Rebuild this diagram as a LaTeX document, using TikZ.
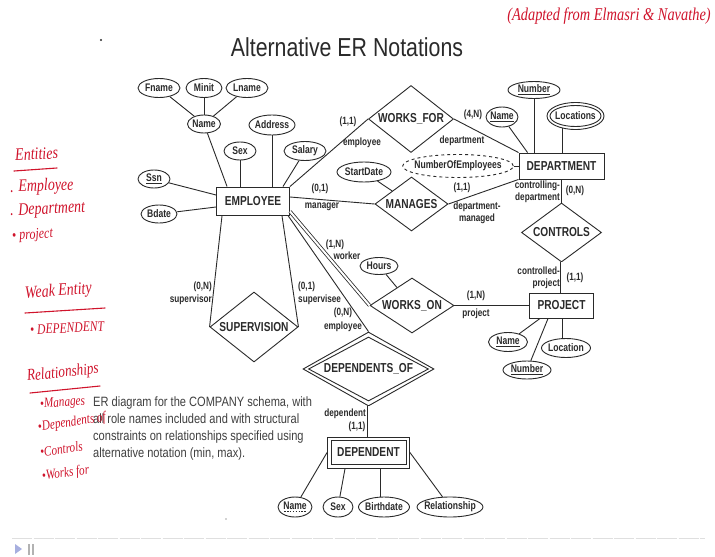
\documentclass[tikz,border=0pt]{standalone}
\usepackage{fontspec}
\setmainfont{Liberation Sans}
\newfontfamily\nb[FakeStretch=0.78]{Liberation Sans}
\newfontfamily\nr[FakeStretch=0.82]{Liberation Sans}
\newfontfamily\hw[FakeStretch=0.8]{Liberation Serif}
\usetikzlibrary{shapes.geometric,calc}
\definecolor{ink}{HTML}{2A2A2A}
\definecolor{pen}{HTML}{D0142C}
\newcommand{\dashund}[1]{\setbox0\hbox{#1}\rlap{\raisebox{-2.2pt}{\hbox to \wd0{\xleaders\hbox to 2.6pt{\hss\vrule width 1.5pt height 0.6pt\hss}\hfill}}}#1}
\begin{document}
\begin{tikzpicture}[x=1pt,y=-1pt,
 every node/.style={text=ink},
 line/.style={draw=ink, line width=0.9pt},
 dline/.style={draw=ink, line width=0.8pt, double=white, double distance=2pt},
 entbox/.style={draw=ink, line width=0.9pt, rectangle, inner sep=0pt, font=\nb\bfseries\fontsize{13}{15}\selectfont},
 outline/.style={draw=ink, line width=0.9pt, inner sep=0pt},
 attr/.style={draw=ink, line width=0.9pt, ellipse, inner xsep=-3pt, inner ysep=0pt, font=\nb\bfseries\fontsize{11}{13}\selectfont},
 reldia/.style={draw=ink, line width=0.9pt, diamond, inner sep=0pt},
 relfont/.style={font=\nb\bfseries\fontsize{13}{15}\selectfont, text=ink, inner sep=0pt},
 role/.style={font=\nb\bfseries\fontsize{10.5}{12}\selectfont, inner sep=0pt, align=center},
 note/.style={text=pen, font=\hw\itshape\fontsize{17.5}{19}\selectfont, inner sep=0pt, anchor=west},
 smallnote/.style={note, font=\hw\itshape\fontsize{14}{15}\selectfont},
 penline/.style={draw=pen, line width=1.1pt, line cap=round},
]
\useasboundingbox (0,0) rectangle (715,557);
\fill[white] (0,0) rectangle (715,557);

% title
\node[font=\nr\fontsize{26}{30}\selectfont] (title) at (347,47) {Alternative ER Notations};

% entities
\node[entbox, minimum width=73, minimum height=28] (emp) at (253,201) {EMPLOYEE};
\node[entbox, minimum width=85, minimum height=26] (dept) at (561.5,166) {DEPARTMENT};
\node[entbox, minimum width=64, minimum height=25] (proj) at (561.5,305.5) {PROJECT};
\node[entbox, minimum width=75, minimum height=24] (dep) at (368.5,452.5) {DEPENDENT};
\node[outline, rectangle, minimum width=82, minimum height=31] (depo) at (dep) {};

% relationships
\node[reldia, minimum width=85, minimum height=67, label={[relfont]center:WORKS\_FOR}] (wf) at (411,119) {};
\node[reldia, minimum width=73, minimum height=54, label={[relfont]center:MANAGES}] (mgr) at (411.5,204) {};
\node[reldia, minimum width=80, minimum height=59, label={[relfont]center:CONTROLS}] (ctl) at (561.5,232.5) {};
\node[reldia, minimum width=84, minimum height=55, label={[relfont]center:WORKS\_ON}] (won) at (412,305.5) {};
\node[reldia, minimum width=88, minimum height=70, label={[relfont]center:SUPERVISION}] (sup) at (254,327) {};
\node[reldia, minimum width=120, minimum height=64, label={[relfont]center:DEPENDENTS\_OF}] (dof) at (368.5,369) {};
\node[reldia, minimum width=131, minimum height=74] (dofo) at (dof) {};

% employee attributes
\node[attr, minimum width=42, minimum height=19] (fname) at (159,88) {Fname};
\node[attr, minimum width=36, minimum height=19] (minit) at (204,88) {Minit};
\node[attr, minimum width=42, minimum height=19] (lname) at (247,88) {Lname};
\node[attr, minimum width=33, minimum height=18] (ename) at (204,124) {Name};
\node[attr, minimum width=46, minimum height=20] (addr) at (272,125) {Address};
\node[attr, minimum width=32, minimum height=18] (esex) at (240,151) {Sex};
\node[attr, minimum width=42, minimum height=19] (sal) at (305,151) {Salary};
\node[attr, minimum width=32, minimum height=18] (ssn) at (154,179) {\underline{Ssn}};
\node[attr, minimum width=36, minimum height=18] (bdate) at (159,214) {Bdate};

% department attributes
\node[attr, minimum width=32, minimum height=20] (dname) at (502,117) {\underline{Name}};
\node[attr, minimum width=52, minimum height=17] (dnum) at (534,90) {\underline{Number}};
\node[attr, inner xsep=-4pt, minimum width=51, minimum height=21] (dloc) at (575.5,116) {Locations};
\node[outline, ellipse, minimum width=57, minimum height=27] (dloco) at (dloc) {};
\node[attr, dashed, inner xsep=-4.5pt, minimum width=110, minimum height=23] (noe) at (458,166) {NumberOfEmployees};
\node[attr, minimum width=54, minimum height=20] (sdate) at (364,172) {StartDate};
\node[attr, minimum width=38, minimum height=17] (hours) at (379,266) {Hours};

% project attributes
\node[attr, minimum width=39, minimum height=19] (pname) at (508,342) {\underline{Name}};
\node[attr, minimum width=49, minimum height=19] (ploc) at (566,348) {Location};
\node[attr, minimum width=48, minimum height=18] (pnum) at (527,370) {\underline{Number}};

% dependent attributes
\node[attr, minimum width=34, minimum height=20] (dpname) at (295,507) {\dashund{Name}};
\node[attr, minimum width=30, minimum height=20] (dpsex) at (338,507) {Sex};
\node[attr, minimum width=51, minimum height=20] (bdt) at (384,507) {Birthdate};
\node[attr, minimum width=66, minimum height=20] (rel) at (450,507) {Relationship};

% attribute connectors
\draw[line] (fname) -- (ename);
\draw[line] (minit) -- (ename);
\draw[line] (lname) -- (ename);
\draw[line] (ename) -- ($(emp.north west)+(11,0)$);
\draw[line] (addr) -- (addr |- emp.north);
\draw[line] (esex) -- (esex |- emp.north);
\draw[line] (sal) -- ($(emp.north east)+(-7,0)$);
\draw[line] (ssn) -- ($(emp.west)+(0,-6)$);
\draw[line] (bdate) -- ($(emp.west)+(0,6)$);

\draw[line] (dname) -- ($(dept.north west)+(9,0)$);
\draw[line] (dnum) -- (dnum |- dept.north);
\coordinate (dlocfoot) at ($(dept.north)+(0.5,0)$);
\draw[line] (dlocfoot) -- ($(dlocfoot |- dloco.south)+(0,-1.5)$);
\draw[line] (noe) -- (dept);
\draw[line] (sdate) -- (mgr);
\draw[line] (hours) -- (won);

\draw[line] (pname) -- ($(proj.south west)+(11,0)$);
\draw[line] (pnum) -- ($(proj.south west)+(19,0)$);
\coordinate (plocfoot) at ($(proj.south)+(0.5,0)$);
\draw[line] (plocfoot) -- (plocfoot |- ploc.north);

\draw[line] (dpname) -- (depo.west);
\draw[line] (dpsex) -- ($(depo.south west)+(18,0)$);
\coordinate (bdttop) at ($(depo.south)+(11.5,0)$);
\draw[line] (bdttop) -- (bdttop |- bdt.north);
\draw[line] (rel) -- (depo.east);

% relationship connectors
\draw[line] (emp.north east) -- (wf.west);
\draw[line] (wf.east) -- (dept.north west);
\draw[line] ($(emp.east)+(0,-4)$) -- (mgr.west);
\draw[line] (mgr.east) -- (dept.south west);
\draw[line] (dept.south) -- (ctl.north);
\draw[dline] (ctl.south) -- (proj.north);
\draw[line] (won.east) -- (proj.west);
\draw[dline] ($(emp.south east)+(0,-4)$) -- (won.west);
\draw[line] ($(emp.south east)+(-2,0)$) -- (dofo.north);
\draw[line] ($(emp.south west)+(6,0)$) -- (sup.west);
\draw[line] ($(emp.south east)+(-8,0)$) -- (sup.east);
\draw[dline] (dofo.south) -- (depo.north);

% role names and constraints
\node[role] (l1) at (348,122) {(1,1)};
\node[role] (l2) at (362,143) {employee};
\node[role] (l3) at (473,115) {(4,N)};
\node[role] (l4) at (462,141) {department};
\node[role] (l5) at (320,189) {(0,1)};
\node[role] (l6) at (322,207) {manager};
\node[role] (l7) at (462,188) {(1,1)};
\node[role] (l8) at (477,213) {department-\\managed};
\node[role, align=right, anchor=east] (l9) at (560,192) {controlling-\\department};
\node[role] (l10) at (575,191) {(0,N)};
\node[role, align=right, anchor=east] (l11) at (560,278) {controlled-\\project};
\node[role] (l12) at (575,278) {(1,1)};
\node[role] (l13) at (476,296) {(1,N)};
\node[role] (l14) at (476,314) {project};
\node[role] (l15) at (335,245) {(1,N)};
\node[role] (l16) at (347,256) {worker};
\node[role] (l17) at (343,313) {(0,N)};
\node[role] (l18) at (343,327) {employee};
\node[role, anchor=east] (l19) at (212,287) {(0,N)};
\node[role, anchor=east] (l20) at (212,300) {supervisor};
\node[role, anchor=west] (l21) at (298,287) {(0,1)};
\node[role, anchor=west] (l22) at (298,300) {supervisee};
\node[role, anchor=east] (l23) at (366,414) {dependent};
\node[role] (l24) at (357,427) {(1,1)};

% caption
\node[anchor=north west, align=left, inner sep=0pt, text=ink!90, font=\nr\fontsize{13.5}{17}\selectfont] (cap) at (93,396.5)
 {ER diagram for the COMPANY schema, with\\all role names included and with structural\\constraints on relationships specified using\\alternative notation (min, max).};

% handwritten notes
\node[note, anchor=center, font=\hw\itshape\fontsize{18}{20}\selectfont] (src) at (609,16) {(Adapted from Elmasri \& Navathe)};
\node[note, rotate=3] (n1) at (15,155) {Entities};
\draw[penline] (14,171) -- (57,168);
\node[note, rotate=2] (n2) at (10,188) {. Employee};
\node[note, rotate=3] (n3) at (10,212) {. Department};
\node[note, rotate=4, font=\hw\itshape\fontsize{15}{17}\selectfont] (n4) at (12,237) {\textbullet\ project};
\node[note, rotate=4] (n5) at (25,294) {Weak Entity};
\draw[penline] (25,313) -- (105,308);
\node[note, rotate=3, font=\hw\itshape\fontsize{14.5}{16}\selectfont] (n6) at (30,330) {\textbullet\ DEPENDENT};
\node[note, rotate=6, font=\hw\itshape\fontsize{16.5}{18}\selectfont] (n7) at (27,377) {Relationships};
\draw[penline] (30,393) -- (100,386);
\node[smallnote, rotate=4] (n8) at (40,405) {\textbullet Manages};
\node[smallnote, rotate=9] (n9) at (38,428) {\textbullet Dependents of};
\node[smallnote, rotate=8] (n10) at (40,452) {\textbullet Controls};
\node[smallnote, rotate=8] (n11) at (42,477) {\textbullet Works for};

% stray marks
\fill[ink] (101,40) circle (1.2);
\fill[gray!70] (226,519) circle (0.8);

% player bar
\draw[gray!25, line width=0.8pt, dash pattern=on 20pt off 1.5pt] (12,538) -- (705,538);
\fill[cyan!30!blue!35!white] (15,544) -- (15,554) -- (22,549) -- cycle;
\fill[gray!60] (28,544) rectangle (29.5,555);
\fill[gray!60] (32,544) rectangle (33.5,555);
\end{tikzpicture}
\end{document}
